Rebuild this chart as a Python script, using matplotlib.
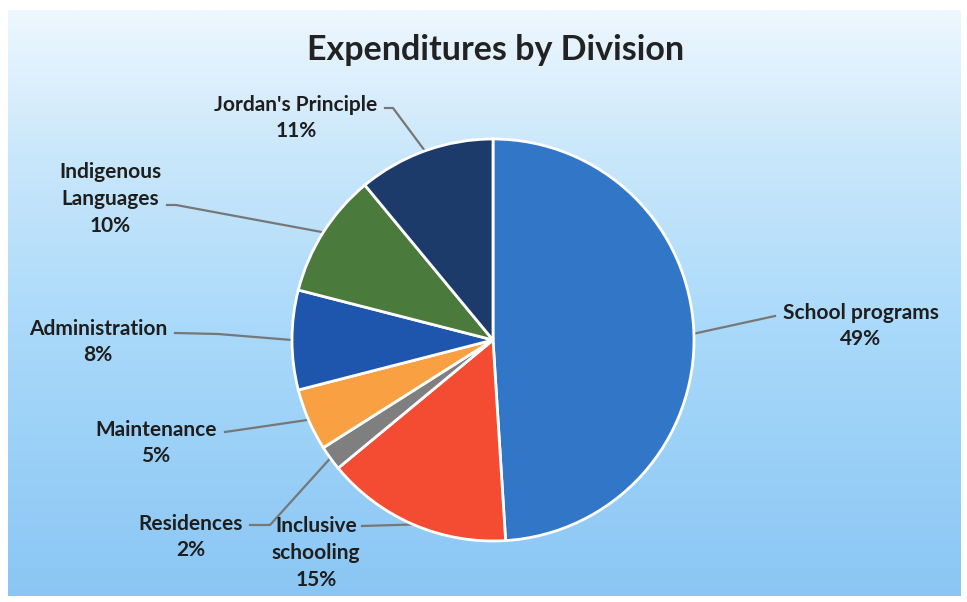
import numpy as np
import matplotlib
matplotlib.use("Agg")
import matplotlib.pyplot as plt
from matplotlib.colors import LinearSegmentedColormap

divisions = ["School programs", "Inclusive\nschooling", "Residences", "Maintenance",
             "Administration", "Indigenous\nLanguages", "Jordan's Principle"]
shares = [49, 15, 2, 5, 8, 10, 11]
colors = ["#3276c8", "#f44b33", "#7f7f7f", "#f9a042", "#1d56ac", "#4a7a3c", "#1c3b6b"]

W, H = 967, 602
fig = plt.figure(figsize=(W / 100, H / 100), dpi=100)
fig.patch.set_facecolor("white")
ax = fig.add_axes([0, 0, 1, 1])

# sky-blue backdrop, pale at the top
bg = LinearSegmentedColormap.from_list(
    "bg", [(0, "#8ac6f4"), (0.45, "#a9d9fa"), (0.75, "#c9e7fb"), (1, "#eef7fe")])
grad = np.linspace(0, 1, 256).reshape(-1, 1)
ax.imshow(grad, cmap=bg, origin="lower", aspect="auto",
          extent=(8, W - 6, 6, H - 10), zorder=0)

cx, cy, r = 493, H - 340, 201
wedges, _ = ax.pie(shares, colors=colors, startangle=90, counterclock=False,
                   center=(cx, cy), radius=r,
                   wedgeprops=dict(edgecolor="white", linewidth=2))
for w in wedges:
    w.set_zorder(2)

# label text positions and leader line elbows (pixel coords from top-left)
layout = [
    ((861, 326), [(775, 316)]),
    ((316, 553), [(362, 526)]),
    ((191, 537), [(270, 525), (250, 525)]),
    ((156, 443), [(225, 432)]),
    ((98, 342), [(218, 334), (175, 333)]),
    ((110, 199), [(176, 205), (167, 205)]),
    ((296, 118), [(393, 108), (385, 108)]),
]

font = dict(family="Lato", weight="bold", fontsize=15, color="#1e1e1e")
for w, name, pct, ((tx, ty), elbows) in zip(wedges, divisions, shares, layout):
    mid = np.deg2rad((w.theta1 + w.theta2) / 2)
    xs = [cx + r * np.cos(mid)] + [p[0] for p in elbows]
    ys = [cy + r * np.sin(mid)] + [H - p[1] for p in elbows]
    ax.plot(xs, ys, color="#777777", lw=1.6, zorder=1)
    ax.text(tx, H - ty, f"{name}\n{pct}%", ha="center", va="center",
            linespacing=1.42, zorder=3, **font)

ax.text(496, H - 50, "Expenditures by Division", ha="center", va="center",
        family="Lato", weight="bold", fontsize=24.5, color="#222222")

ax.set_xlim(0, W)
ax.set_ylim(0, H)
ax.set_aspect("auto")
ax.axis("off")

fig.savefig("out.png", dpi=100)
